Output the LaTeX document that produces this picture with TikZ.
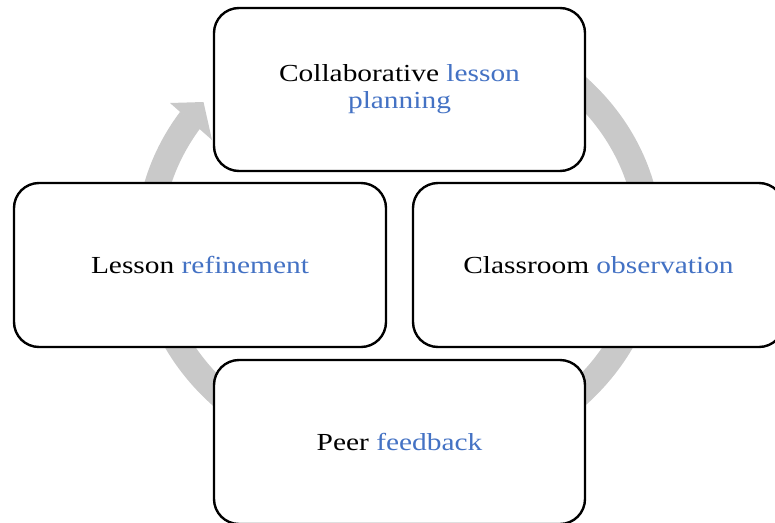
\documentclass[tikz,border=0pt]{standalone}
\usepackage{fontspec}
\setmainfont[FakeStretch=1.2]{Liberation Serif}
\definecolor{accent}{HTML}{4472C4}
\definecolor{ringgray}{HTML}{C9C9C9}
\tikzset{
  stagebox/.style={draw=black, line width=2.4pt, fill=white, rounded corners=25pt,
    minimum width=371pt, minimum height=163pt, align=center,
    font=\fontsize{24.5}{27}\selectfont, inner sep=0pt},
  ring/.style={draw=ringgray, line width=26pt},
  ringhead/.style={fill=ringgray, draw=none}
}
\begin{document}
\begin{tikzpicture}[x=1pt,y=-1pt]
\useasboundingbox (0,0) rectangle (775,522);
% circular arrow behind boxes
\coordinate (c) at (399,241);
\draw[ring] ([shift={(-100:250 and 220)}]c) arc[start angle=-100, end angle=213.5, x radius=250, y radius=220];
\coordinate (hO) at (170,103);
\coordinate (hT) at (203.5,102);
\coordinate (hI) at (212,140);
\fill[ringhead] (hO) -- (hT) -- (hI) -- cycle;
% stage boxes
\node[stagebox] (plan) at (399.5,89.5) {Collaborative \textcolor{accent}{lesson}\\\textcolor{accent}{planning}};
\node[stagebox, minimum width=372pt, minimum height=164pt] (refine) at (200,265) {Lesson \textcolor{accent}{refinement}};
\node[stagebox, minimum height=164pt] (observe) at (598.5,265) {Classroom \textcolor{accent}{observation}};
\node[stagebox, minimum height=164pt] (feedback) at (399.5,442) {Peer \textcolor{accent}{feedback}};
\end{tikzpicture}
\end{document}
